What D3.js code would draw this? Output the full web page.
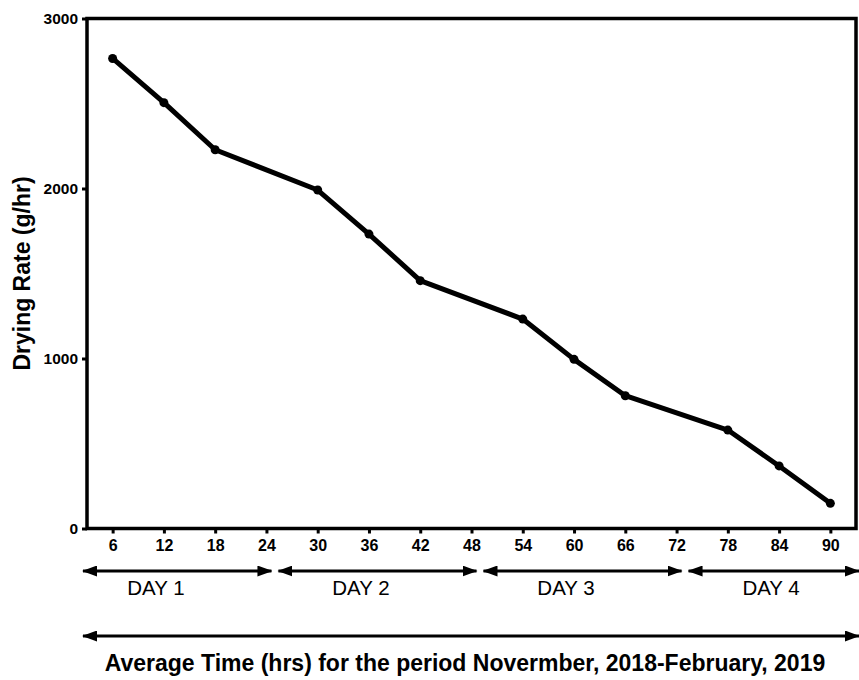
<!DOCTYPE html>
<html>
<head>
<meta charset="utf-8">
<script src="https://cdn.jsdelivr.net/npm/d3@7"></script>
<style>
  html, body { margin: 0; padding: 0; background: #fff; }
  svg { display: block; font-family: "Liberation Sans", Arial, sans-serif; }
</style>
</head>
<body>
<svg id="chart" width="859" height="680"></svg>
<script>
// ---- data ----
const hours = [6, 12, 18, 30, 36, 42, 54, 60, 66, 78, 84, 90];
const dryingRate = [2765, 2505, 2228, 1991, 1732, 1458, 1232, 995, 781, 579, 368, 148];
const xTicks = [6, 12, 18, 24, 30, 36, 42, 48, 54, 60, 66, 72, 78, 84, 90];
const yTicks = [0, 1000, 2000, 3000];
const dayLabels = ["DAY 1", "DAY 2", "DAY 3", "DAY 4"];
const dayStart = [0, 24, 48, 72];
const dayEnd = [24, 48, 72, 96];
const yTitle = "Drying Rate (g/hr)";
const xTitle = "Average Time (hrs) for the period Novermber, 2018-February, 2019";

// ---- layout ----
const W = 859, H = 680;
const svg = d3.select("#chart");
const x = d3.scaleLinear().domain([3, 93]).range([87, 856]);
const y = d3.scaleLinear().domain([0, 3000]).range([528.5, 18.5]);

// arrow marker defs
const defs = svg.append("defs");
function marker(id, orient) {
  defs.append("marker")
    .attr("id", id)
    .attr("markerUnits", "userSpaceOnUse")
    .attr("viewBox", "0 0 15 11")
    .attr("refX", 14).attr("refY", 5.5)
    .attr("markerWidth", 15).attr("markerHeight", 11)
    .attr("orient", orient)
    .append("path").attr("d", "M0,0 L15,5.5 L0,11 Z").attr("fill", "#000");
}
marker("arrowEnd", "auto");
marker("arrowStart", "auto-start-reverse");

// frame
const [x0, x1] = x.range();
const [yb, yt] = y.range();
svg.append("rect")
  .attr("x", x0).attr("y", yt)
  .attr("width", x1 - x0).attr("height", yb - yt)
  .attr("fill", "none").attr("stroke", "#000").attr("stroke-width", 3.5);

// axes
const xAxis = svg.append("g")
  .attr("transform", `translate(0,${yb})`)
  .call(d3.axisBottom(x).tickValues(xTicks).tickSize(5).tickPadding(6).tickFormat(d3.format("d")));
const yAxis = svg.append("g")
  .attr("transform", `translate(${x0},0)`)
  .call(d3.axisLeft(y).tickValues(yTicks).tickSize(5).tickPadding(4).tickFormat(d3.format("d")));
[xAxis, yAxis].forEach(g => {
  g.select(".domain").remove();
  g.selectAll(".tick line").attr("stroke", "#000").attr("stroke-width", 3);
  g.selectAll(".tick text").attr("fill", "#000").attr("font-weight", "bold")
    .attr("font-family", "'Liberation Sans', Arial, sans-serif");
});
xAxis.selectAll(".tick text").attr("font-size", 16);
yAxis.selectAll(".tick text").attr("font-size", 15.5);

// line + markers
const pts = hours.map((h, i) => [h, dryingRate[i]]);
svg.append("path")
  .datum(pts)
  .attr("fill", "none").attr("stroke", "#000").attr("stroke-width", 5)
  .attr("stroke-linejoin", "round")
  .attr("d", d3.line().x(d => x(d[0])).y(d => y(d[1])));
svg.selectAll("circle.pt").data(pts).enter().append("circle")
  .attr("class", "pt")
  .attr("cx", d => x(d[0])).attr("cy", d => y(d[1]))
  .attr("r", 4.5).attr("fill", "#000");

// day arrows
const dayY = 571;
dayLabels.forEach((lab, i) => {
  const ax1 = Math.max(x(dayStart[i]) + 12, 83);
  const ax2 = Math.min(x(dayEnd[i]) + 5, W);
  svg.append("line")
    .attr("x1", ax1).attr("x2", ax2).attr("y1", dayY).attr("y2", dayY)
    .attr("stroke", "#000").attr("stroke-width", 3)
    .attr("marker-start", "url(#arrowStart)").attr("marker-end", "url(#arrowEnd)");
  svg.append("text")
    .attr("x", x((dayStart[i] + dayEnd[i]) / 2) - 8).attr("y", 595)
    .attr("text-anchor", "middle").attr("font-size", 20.5).attr("fill", "#000")
    .text(lab);
});

// long arrow
svg.append("line")
  .attr("x1", 83).attr("x2", W).attr("y1", 636).attr("y2", 636)
  .attr("stroke", "#000").attr("stroke-width", 3)
  .attr("marker-start", "url(#arrowStart)").attr("marker-end", "url(#arrowEnd)");

// titles
svg.append("text")
  .attr("x", 465).attr("y", 671)
  .attr("text-anchor", "middle").attr("font-size", 23).attr("font-weight", "bold")
  .attr("fill", "#000").text(xTitle);
svg.append("text")
  .attr("transform", `translate(30,${(yb + yt) / 2}) rotate(-90)`)
  .attr("text-anchor", "middle").attr("font-size", 23).attr("font-weight", "bold")
  .attr("fill", "#000").text(yTitle);
</script>
</body>
</html>
